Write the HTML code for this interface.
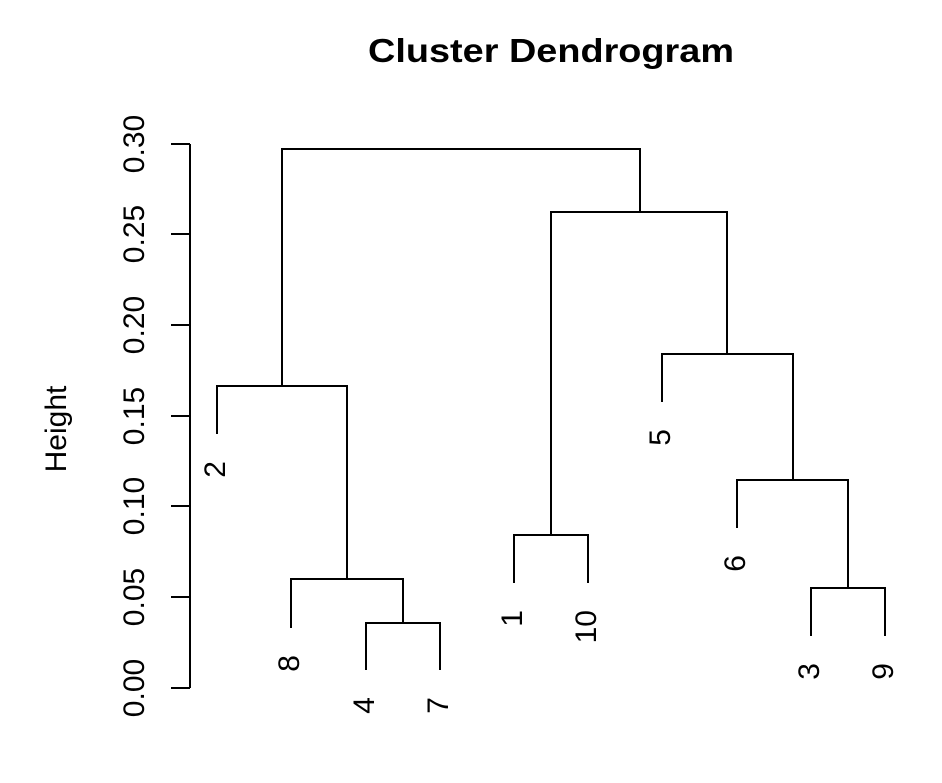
<!DOCTYPE html>
<html><head><meta charset="utf-8"><style>html,body{margin:0;padding:0;background:#fff}</style></head>
<body>
<svg width="942" height="778" xmlns="http://www.w3.org/2000/svg" font-family="Liberation Sans, Arial, sans-serif">
<rect width="942" height="778" fill="#fff"/>
<text x="551" y="62" text-anchor="middle" font-size="33" font-weight="bold" textLength="366" lengthAdjust="spacingAndGlyphs">Cluster Dendrogram</text>
<text transform="translate(66,429) rotate(-90)" text-anchor="middle" font-size="30">Height</text>
<g stroke="#000" stroke-width="2" fill="none">
<path d="M190 144V688M171 144H190M171 234H190M171 325H190M171 416H190M171 506H190M171 597H190M171 688H190"/>
<path d="M282 386V149H640V212"/>
<path d="M217 434V386H347V579"/>
<path d="M291 628V579H403V623"/>
<path d="M366 670V623H440V670"/>
<path d="M551 535V212H727V354"/>
<path d="M514 583V535H588V583"/>
<path d="M662 402V354H793V480"/>
<path d="M737 528V480H848V588"/>
<path d="M811 636V588H885V636"/>
</g>
<g font-size="30" text-anchor="middle">
<text transform="translate(144,688) rotate(-90)">0.00</text>
<text transform="translate(144,597) rotate(-90)">0.05</text>
<text transform="translate(144,506) rotate(-90)">0.10</text>
<text transform="translate(144,416) rotate(-90)">0.15</text>
<text transform="translate(144,325) rotate(-90)">0.20</text>
<text transform="translate(144,234) rotate(-90)">0.25</text>
<text transform="translate(144,144) rotate(-90)">0.30</text>
</g>
<g font-size="30" text-anchor="end">
<text transform="translate(225,461) rotate(-90)">2</text>
<text transform="translate(299,655) rotate(-90)">8</text>
<text transform="translate(374,697) rotate(-90)">4</text>
<text transform="translate(448,697) rotate(-90)">7</text>
<text transform="translate(522,610) rotate(-90)">1</text>
<text transform="translate(596,610) rotate(-90)">10</text>
<text transform="translate(670,429) rotate(-90)">5</text>
<text transform="translate(745,555) rotate(-90)">6</text>
<text transform="translate(819,663) rotate(-90)">3</text>
<text transform="translate(893,663) rotate(-90)">9</text>
</g>
</svg>
</body></html>
